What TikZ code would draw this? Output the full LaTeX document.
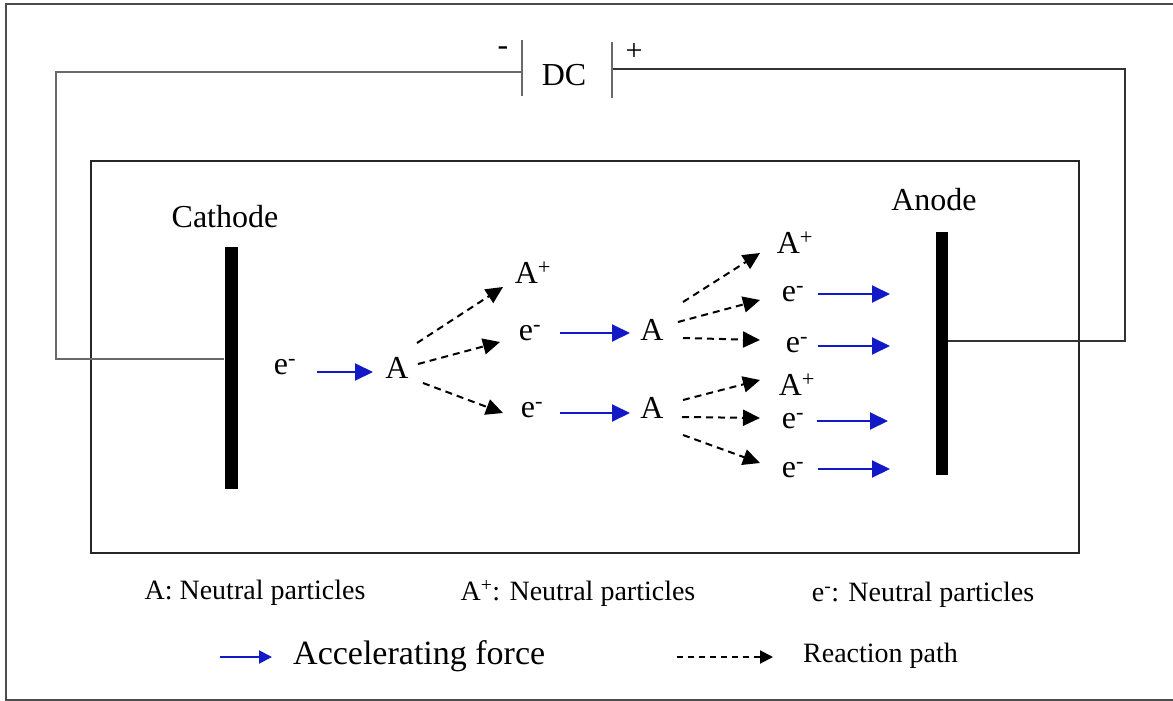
\documentclass[tikz,border=0pt]{standalone}
\usepackage{fontspec}
\setmainfont{Liberation Serif}
\usepackage{xcolor}
\usepackage{tikz}
\usetikzlibrary{arrows.meta}
\definecolor{accblue}{RGB}{20,25,200}
\definecolor{wiregray}{RGB}{105,105,105}
\tikzset{
  part_n/.style = {inner sep=0pt, font=\fontsize{32}{38}\selectfont},% particle
  elec_l/.style = {inner sep=0pt, font=\fontsize{32}{38}\selectfont},% electrode label
  key_n/.style = {inner sep=0pt, font=\fontsize{28}{34}\selectfont},% legend text
  elec_n/.style = {rectangle, fill=black, draw=none, inner sep=0pt,
    minimum width=13pt},% electrode
  plate_n/.style = {rectangle, fill=wiregray, draw=none, inner sep=0pt,
    minimum width=2pt, minimum height=56pt},% battery plate
  accel/.style = {accblue, line width=2pt,
    -{Triangle[length=18pt,width=17pt]}},
  react/.style = {black, line width=2pt, dash pattern=on 7pt off 5pt,
    -{Triangle[length=17pt,width=16pt]}},
  wire/.style = {line width=1.5pt}
}
\begin{document}
\begin{tikzpicture}[x=1pt,y=-1pt]
\useasboundingbox (0,0) rectangle (1173,701);
% frame, right side cut off
\draw[line width=2pt, black!70] (1173,4) -- (6,4) -- (6,700) -- (1173,700);
% chamber
\draw[line width=1.5pt, black!85] (91,161) rectangle (1079,553);

% electrodes
\node[elec_n, minimum height=242pt] (cathode) at (231,368) {};
\node[elec_n, minimum height=243pt, minimum width=12pt] (anode) at (942,353) {};
\node[elec_l] (cathode_l) at (225,217) {Cathode};
\node[elec_l] (anode_l) at (934,200) {Anode};

% DC source
\node[plate_n] (neg) at (522,68) {};
\node[plate_n] (pos) at (612,70) {};
\node[elec_l] (dc) at (564,75) {DC};
\node[elec_l] (neg_l) at (503,51) {-};
\node[inner sep=0pt, font=\fontsize{30}{34}\selectfont] (pos_l) at (634,52) {+};
\coordinate (lw_top) at (56,72);
\coordinate (lw_bot) at (56,359);
\coordinate (rw_top) at (1125,69);
\coordinate (rw_bot) at (1125,341);
\draw[wire, wiregray] (neg.west |- lw_top) -- (lw_top) -- (lw_bot) -- (lw_bot -| cathode.west);
\draw[wire, black!80] (pos.east |- rw_top) -- (rw_top) -- (rw_bot) -- (rw_bot -| anode.east);

% particles
\node[part_n] (e0) at (285,367) {e\textsuperscript{-}};
\node[part_n] (a0) at (397,368) {A};
\node[part_n] (p1) at (533,273) {A\textsuperscript{+}};
\node[part_n] (e1) at (530,333) {e\textsuperscript{-}};
\node[part_n] (e2) at (532,410) {e\textsuperscript{-}};
\node[part_n] (a1) at (652,330) {A};
\node[part_n] (a2) at (652,408) {A};
\node[part_n] (p2) at (795,243) {A\textsuperscript{+}};
\node[part_n] (e3) at (793,294) {e\textsuperscript{-}};
\node[part_n] (e4) at (797,345) {e\textsuperscript{-}};
\node[part_n] (p3) at (797,385) {A\textsuperscript{+}};
\node[part_n] (e5) at (793,421) {e\textsuperscript{-}};
\node[part_n] (e6) at (793,470) {e\textsuperscript{-}};

% accelerating force
\foreach \from/\to/\fx/\fy/\tx/\ty in {e0/a0/32/5/-24/4, e1/a1/30/0/-22/3,
    e2/a2/28/3/-22/5, e3/e3/25/0/97/0, e4/e4/21/1/93/1, e5/e5/24/0/95/0,
    e6/e6/25/-1/97/-1}
  \draw[accel] ([shift={(\fx,\fy)}]\from.center) -- ([shift={(\tx,\ty)}]\to.center);

% reaction paths
\foreach \from/\to/\fx/\fy/\tx/\ty in {a0/p1/20/-25/-30/14, a0/e1/21/-4/-30/9,
    a0/e2/26/15/-29/3, a1/p2/31/-28/-35/10, a1/e3/26/-8/-33/6,
    a1/e4/31/8/-37/-5, a2/p3/31/-8/-37/-5, a2/e5/30/9/-33/-3,
    a2/e6/31/27/-33/-7}
  \draw[react] ([shift={(\fx,\fy)}]\from.center) -- ([shift={(\tx,\ty)}]\to.center);

% legend
\node[key_n] (key_a) at (255,593) {A: Neutral particles};
\node[key_n] (key_ap) at (578,593) {A\textsuperscript{+}: Neutral particles};
\node[key_n] (key_e) at (923,595) {e\textsuperscript{-}: Neutral particles};
\node[key_n, font=\fontsize{34}{40}\selectfont, anchor=west] (key_acc) at (293,656) {Accelerating force};
\node[key_n, anchor=west] (key_react) at (803,656) {Reaction path};
\coordinate (acc_from) at (220,657);
\coordinate (react_from) at (677,657);
\draw[accel, -{Triangle[length=13pt,width=13pt]}] (acc_from) -- ([xshift=-21pt]key_acc.west |- acc_from);
\draw[react, dash pattern=on 6pt off 5pt, -{Triangle[length=13pt,width=13pt]}] (react_from) -- ([xshift=-30pt]key_react.west |- react_from);
\end{tikzpicture}
\end{document}
